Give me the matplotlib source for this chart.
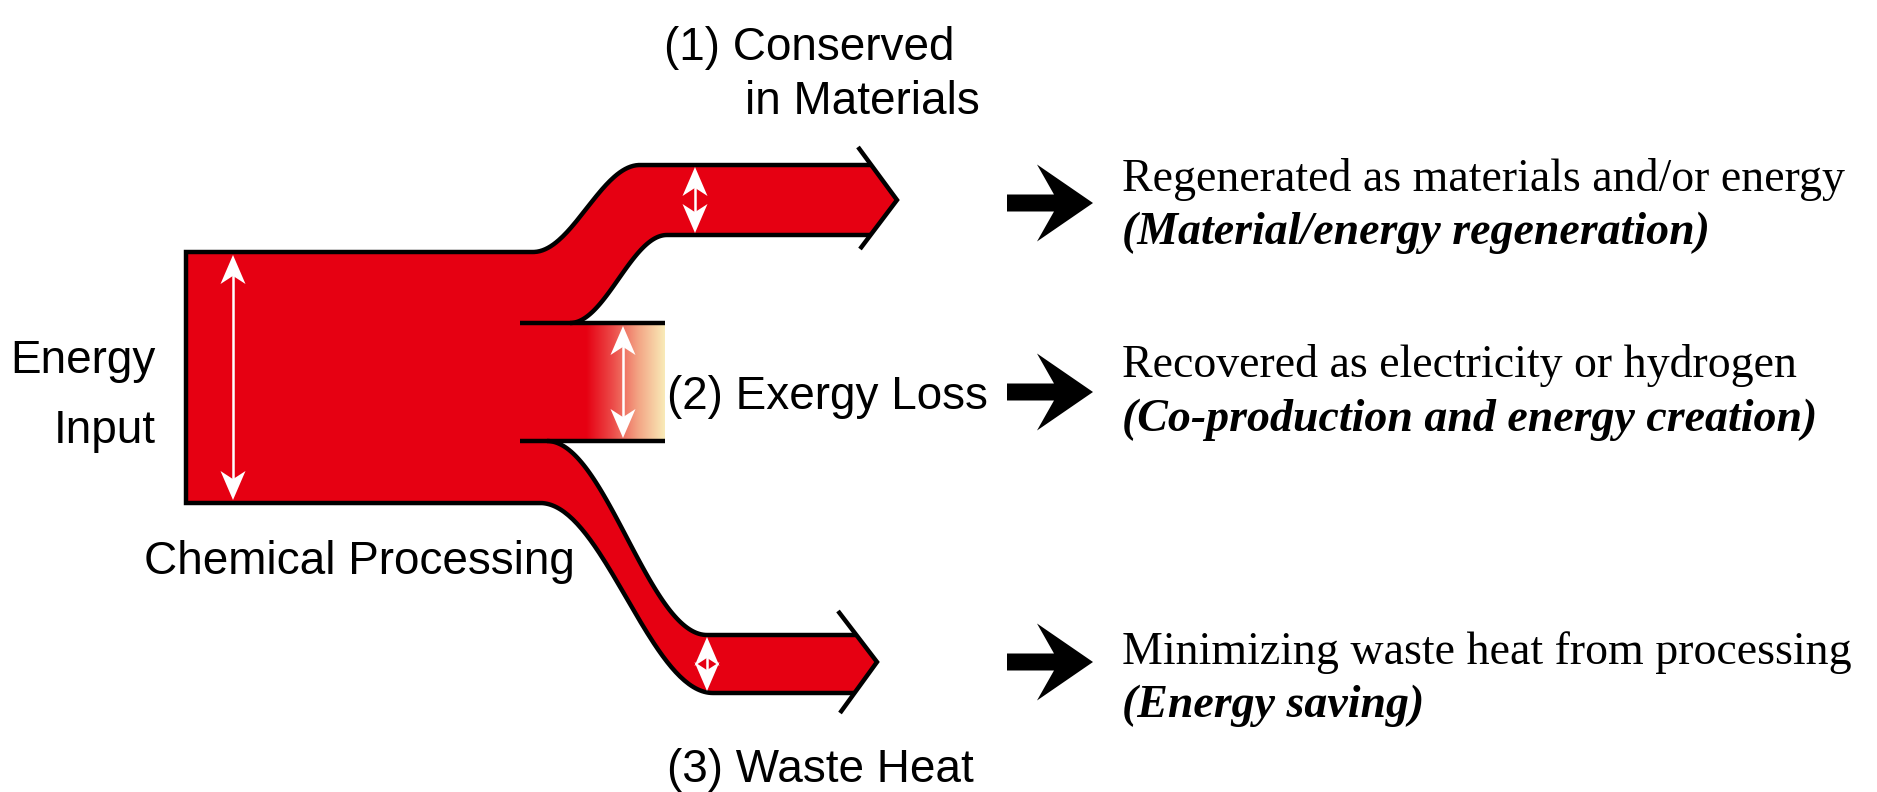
import numpy as np
import matplotlib.pyplot as plt
from matplotlib import font_manager
from matplotlib.patches import Polygon
from matplotlib.colors import LinearSegmentedColormap

W, H = 1877, 792
RED = '#e60012'

# labels of the three outflows and what is done with them
flow_labels = ['(1) Conserved', 'in Materials', '(2) Exergy Loss', '(3) Waste Heat']
outcome_lines = ['Regenerated as materials and/or energy',
                 'Recovered as electricity or hydrogen',
                 'Minimizing waste heat from processing']
outcome_names = ['(Material/energy regeneration)',
                 '(Co-production and energy creation)',
                 '(Energy saving)']

# band edges (pixel rows)
box_x0, box_top, box_bot = 186, 252, 503
up_top, up_bot = 165, 235
ex_top, ex_bot = 323, 441
lo_top, lo_bot = 635, 693

names = {f.name for f in font_manager.fontManager.ttflist}
if 'Liberation Sans Narrow' in names:
    SANS, sans_size = 'Liberation Sans Narrow', 40
else:
    SANS, sans_size = 'Liberation Sans', 33
SERIF, serif_size = 'Liberation Serif', 33


def s_curve(x0, y0, x1, y1, n=80):
    t = np.linspace(0, 1, n)
    return x0 + (x1 - x0) * t, y0 + (y1 - y0) * (1 - np.cos(np.pi * t)) / 2


fig = plt.figure(figsize=(W / 100, H / 100), dpi=100)
ax = fig.add_axes([0, 0, 1, 1])

# curves
tx, ty = s_curve(533, box_top, 640, up_top)          # top outer
ux, uy = s_curve(570, ex_top, 667, up_bot)           # upper inner
lx, ly = s_curve(547, ex_bot, 707, lo_top)           # lower inner
ox, oy = s_curve(540, box_bot, 713, lo_bot)          # lower outer

# red body
pts = [(box_x0, box_top)]
pts += list(zip(tx, ty))
pts += [(871, up_top), (897, 200), (871, up_bot)]
pts += list(zip(ux[::-1], uy[::-1]))
pts += [(587, ex_top), (587, ex_bot)]
pts += list(zip(lx, ly))
pts += [(856, lo_top), (877, 662), (855, lo_bot)]
pts += list(zip(ox[::-1], oy[::-1]))
pts += [(box_x0, box_bot)]
ax.add_patch(Polygon(pts, closed=True, fc=RED, ec='none', zorder=1))

# exergy loss fades out
cmap = LinearSegmentedColormap.from_list('fade', [RED, '#ec4a48', '#f3a585', '#f9ebb8'])
ax.imshow(np.linspace(0, 1, 256).reshape(1, -1), cmap=cmap, aspect='auto',
          extent=(586, 665, ex_bot, ex_top), zorder=1.5, interpolation='bilinear')

# outlines
lk = dict(color='black', lw=3.2, solid_capstyle='butt', solid_joinstyle='miter', zorder=3)
xs = [871, 640] + list(tx[::-1]) + [box_x0, box_x0] + list(ox) + [855]
ys = [up_top, up_top] + list(ty[::-1]) + [box_top, box_bot] + list(oy) + [lo_bot]
ax.plot(xs, ys, **lk)
ax.plot([871, 667] + list(ux[::-1]), [up_bot, up_bot] + list(uy[::-1]), **lk)
ax.plot(list(lx) + [856], list(ly) + [lo_top], **lk)
ax.plot([520, 665], [ex_top, ex_top], **lk)
ax.plot([520, 665], [ex_bot, ex_bot], **lk)
ax.plot([858, 897, 860], [147, 200, 249], **lk)
ax.plot([838, 877, 840], [611, 662, 713], **lk)


def double_arrow(x, y0, y1, L=29, w=25, notch=0.28):
    ax.plot([x, x], [y0 + L * 0.6, y1 - L * 0.6], color='white', lw=1.8, zorder=4)
    for yt, d in ((y0, 1), (y1, -1)):
        head = [(x, yt), (x + w / 2, yt + d * L), (x, yt + d * L * (1 - notch)),
                (x - w / 2, yt + d * L)]
        ax.add_patch(Polygon(head, closed=True, fc='white', ec='none', zorder=4))


double_arrow(233, box_top + 3, box_bot - 3)
double_arrow(695, up_top + 2, up_bot - 2)
double_arrow(623, ex_top + 3, ex_bot - 3)
double_arrow(707, lo_top + 2, lo_bot - 2)

# black arrows to the outcomes
arrow_y = [203, 392, 662]
for yc in arrow_y:
    x0 = 1007
    shape = [(x0, yc - 8.5), (x0 + 47, yc - 8.5), (x0 + 30, yc - 38.5), (x0 + 86, yc),
             (x0 + 30, yc + 38.5), (x0 + 47, yc + 8.5), (x0, yc + 8.5)]
    ax.add_patch(Polygon(shape, closed=True, fc='black', ec='none', zorder=3))

# labels
sk = dict(family=[SANS, 'DejaVu Sans'], fontsize=sans_size, va='baseline')
ax.text(156, 373, 'Energy', ha='right', **sk)
ax.text(156, 443, 'Input', ha='right', **sk)
ax.text(144, 574, 'Chemical Processing', ha='left', **sk)
ax.text(664, 60, flow_labels[0], ha='left', **sk)
ax.text(745, 114, flow_labels[1], ha='left', **sk)
ax.text(667, 409, flow_labels[2], ha='left', **sk)
ax.text(667, 782, flow_labels[3], ha='left', **sk)

rk = dict(family=SERIF, fontsize=serif_size, va='baseline', ha='left')
text_y = [(191, 244), (377, 431), (664, 717)]
for (y1, y2), line, name in zip(text_y, outcome_lines, outcome_names):
    ax.text(1122, y1, line, **rk)
    ax.text(1122, y2, name, style='italic', weight='bold', **rk)

ax.set_xlim(0, W)
ax.set_ylim(H, 0)
ax.axis('off')
fig.savefig('out.png', dpi=100)
